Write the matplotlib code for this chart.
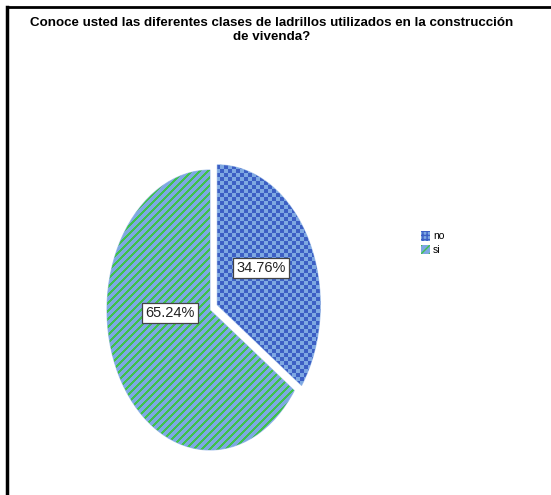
import numpy as np
import matplotlib.pyplot as plt
import matplotlib.patches as patches
from matplotlib.colors import ListedColormap

# data
categorias = ["no", "si"]
porcentajes = [34.76, 65.24]
titulo = "Conoce usted las diferentes clases de ladrillos utilizados en la construcción\nde vivenda?"

W, H = 551, 495
AZUL_OSC = "#3c5fc4"
AZUL_CLARO = "#7ea8e2"
VERDE = "#3fc24c"

plt.rcParams['font.family'] = ['Liberation Sans', 'DejaVu Sans']

fig = plt.figure(figsize=(W / 100, H / 100), dpi=100)

# marco (linea arriba y a la izquierda)
fondo = fig.add_axes([0, 0, 1, 1])
fondo.set_xlim(0, W)
fondo.set_ylim(H, 0)
fondo.axis("off")
fondo.plot([7, W], [7, 7], color="black", lw=2)
fondo.plot([7, 7], [7, H], color="black", lw=2.5)

fig.text(272 / W, 1 - 30 / H, titulo, ha="center", va="center",
         fontsize=9.6, fontweight="bold", linespacing=1.25)

# eje del pie: elipse centro (210,310) rx=103 ry=140 px
cx, cy, rx, ry = 210, 310, 103, 140
m = 1.15
ax = fig.add_axes([(cx - m * rx) / W, (H - cy - m * ry) / H, 2 * m * rx / W, 2 * m * ry / H])
wedges, textos = ax.pie(porcentajes, startangle=90, counterclock=False,
                        explode=[0.08, 0], colors=[AZUL_CLARO, AZUL_CLARO],
                        wedgeprops=dict(linewidth=0.8, edgecolor="#a9c4ec"))
ax.set_aspect("auto")
ax.set_xlim(-m, m)
ax.set_ylim(-m, m)
ax.axis("off")

# texturas: cuadriculado para "no", rayas para "si"
nx, ny = int(round(2 * m * rx)), int(round(2 * m * ry))
cols, rows = np.meshgrid(np.arange(nx), np.arange(ny))
cuadros = ((cols // 4 + rows // 4) % 2).astype(float)
rayas = (((cols + rows) % 8) < 3).astype(float)

cm1 = ListedColormap([AZUL_CLARO, AZUL_OSC])
cm2 = ListedColormap([AZUL_CLARO, VERDE])
for w, tex, cm in zip(wedges, [cuadros, rayas], [cm1, cm2]):
    im = ax.imshow(tex, cmap=cm, extent=(-m, m, -m, m), origin="upper",
                   interpolation="nearest", aspect="auto", zorder=2)
    im.set_clip_path(w)

# etiquetas
pos_etiquetas = [(0.495, 0.30), (-0.39, -0.02)]
for p, (x, y) in zip(porcentajes, pos_etiquetas):
    ax.text(x, y, f"{p:.2f}%", ha="center", va="center", fontsize=10.5, zorder=5,
            color="#222222",
            bbox=dict(boxstyle="square,pad=0.22", facecolor="white", edgecolor="#444444", lw=0.9))

# leyenda
handles = [patches.Patch(facecolor=AZUL_CLARO, edgecolor=AZUL_OSC, hatch="++++", lw=0),
           patches.Patch(facecolor=AZUL_CLARO, edgecolor=VERDE, hatch="////", lw=0)]
fig.legend(handles, categorias, loc="center left", bbox_to_anchor=(421 / W, 1 - 243 / H),
           frameon=False, fontsize=7.5, handlelength=0.85, handleheight=1.05,
           handletextpad=0.3, labelspacing=0.3, borderaxespad=0, borderpad=0)

fig.savefig("out.png", dpi=100)
